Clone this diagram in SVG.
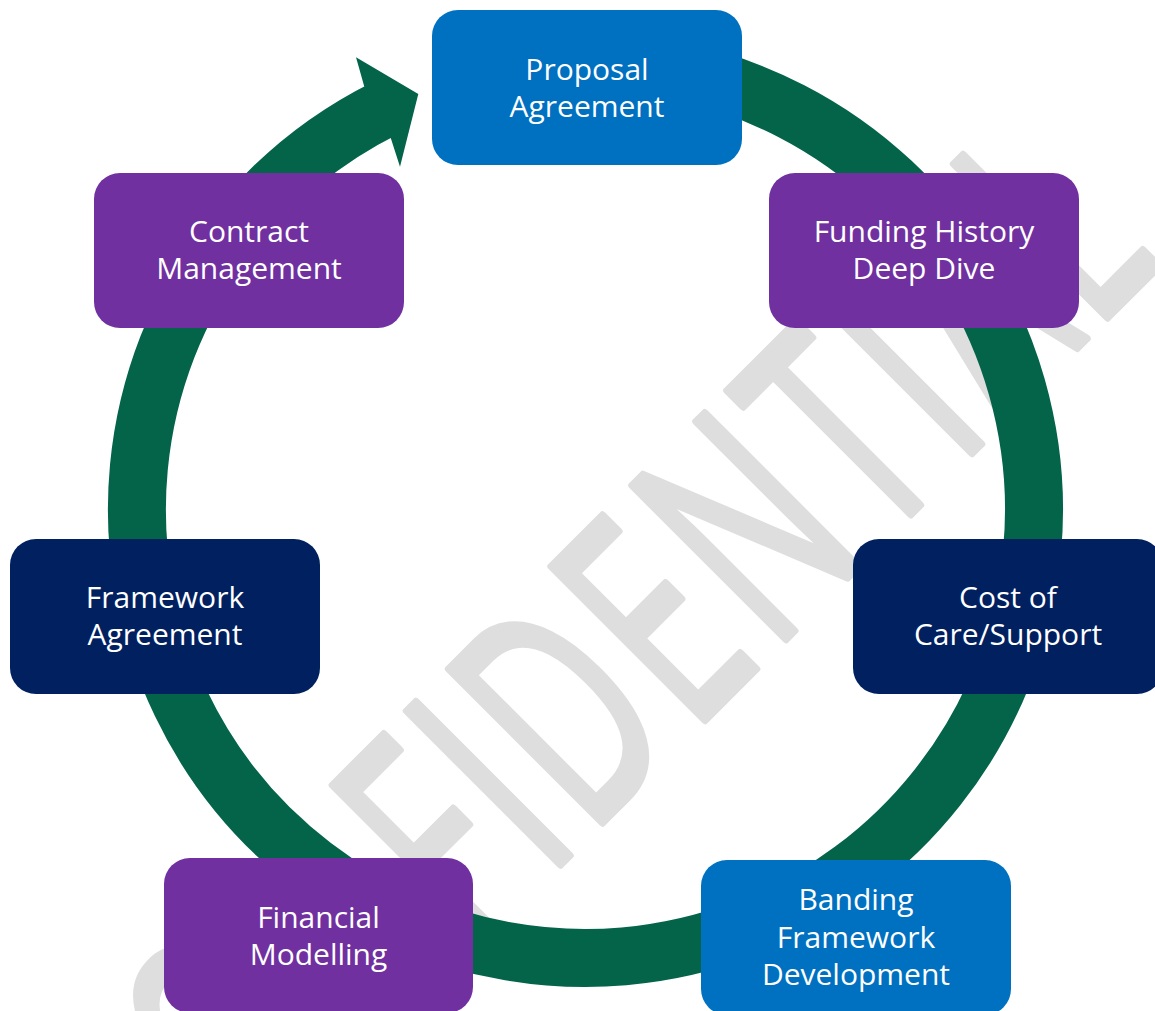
<svg xmlns="http://www.w3.org/2000/svg" width="1155" height="1011" viewBox="0 0 1155 1011">
  <defs>
    <style>
      .wm { font-family: "Open Sans", "Liberation Sans", sans-serif; font-size: 304px; fill: #dedede; stroke: #dedede; stroke-width: 8; stroke-linejoin: round; text-anchor: middle; }
      .box { stroke: none; }
      .blue { fill: #0070c0; }
      .purple { fill: #7030a0; }
      .navy { fill: #002060; }
      .lbl { font-family: "Open Sans", "Liberation Sans", sans-serif; font-size: 30px; fill: #ffffff; text-anchor: middle; }
      .ring { fill: none; stroke: #03644a; stroke-width: 58; }
    </style>
  </defs>
  <rect width="1155" height="1011" fill="#ffffff"/>

  <g id="watermark" transform="translate(712.5,712.5) rotate(-45)">
    <g transform="scale(0.62,1)">
      <text class="wm"><tspan x="-1151.6" y="0">C</tspan><tspan x="-925.8" y="0">O</tspan><tspan x="-677.4" y="0">N</tspan><tspan x="-469.4" y="0">F</tspan><tspan x="-336.3" y="0">I</tspan><tspan x="-172.6" y="0">D</tspan><tspan x="35.5" y="0">E</tspan><tspan x="250" y="0">N</tspan><tspan x="462.9" y="0">T</tspan><tspan x="602.4" y="0">I</tspan><tspan x="759.7" y="0">A</tspan><tspan x="948.4" y="0">L</tspan></text>
    </g>
  </g>

  <g id="connectors">
    <path class="ring" d="M 469.4 76.3 A 448.5 448.5 0 1 1 385.4 108.1"/>
    <polygon fill="#03644a" points="364.2,86.2 356,57.3 418.3,94 400,166.7 390.9,138.4"/>
  </g>

  <g id="node-proposal">
    <rect class="box blue" x="432" y="10" width="310" height="155" rx="26"/>
    <text class="lbl" x="587" y="79.5">Proposal</text>
    <text class="lbl" x="587" y="116.5">Agreement</text>
  </g>

  <g id="node-funding">
    <rect class="box purple" x="769" y="173" width="310" height="155" rx="26"/>
    <text class="lbl" x="924" y="242">Funding History</text>
    <text class="lbl" x="924" y="279">Deep Dive</text>
  </g>

  <g id="node-cost">
    <rect class="box navy" x="853" y="539" width="310" height="155" rx="26"/>
    <text class="lbl" x="1008" y="608">Cost of</text>
    <text class="lbl" x="1008" y="645">Care/Support</text>
  </g>

  <g id="node-banding">
    <rect class="box blue" x="701" y="860" width="310" height="155" rx="26"/>
    <text class="lbl" x="856" y="910">Banding</text>
    <text class="lbl" x="856" y="947.5">Framework</text>
    <text class="lbl" x="856" y="985">Development</text>
  </g>

  <g id="node-financial">
    <rect class="box purple" x="164" y="858" width="309" height="155" rx="26"/>
    <text class="lbl" x="318.5" y="927.5">Financial</text>
    <text class="lbl" x="318.5" y="964.5">Modelling</text>
  </g>

  <g id="node-framework">
    <rect class="box navy" x="10" y="539" width="310" height="155" rx="26"/>
    <text class="lbl" x="165" y="608">Framework</text>
    <text class="lbl" x="165" y="645">Agreement</text>
  </g>

  <g id="node-contract">
    <rect class="box purple" x="94" y="173" width="310" height="155" rx="26"/>
    <text class="lbl" x="249" y="242">Contract</text>
    <text class="lbl" x="249" y="279">Management</text>
  </g>
</svg>
